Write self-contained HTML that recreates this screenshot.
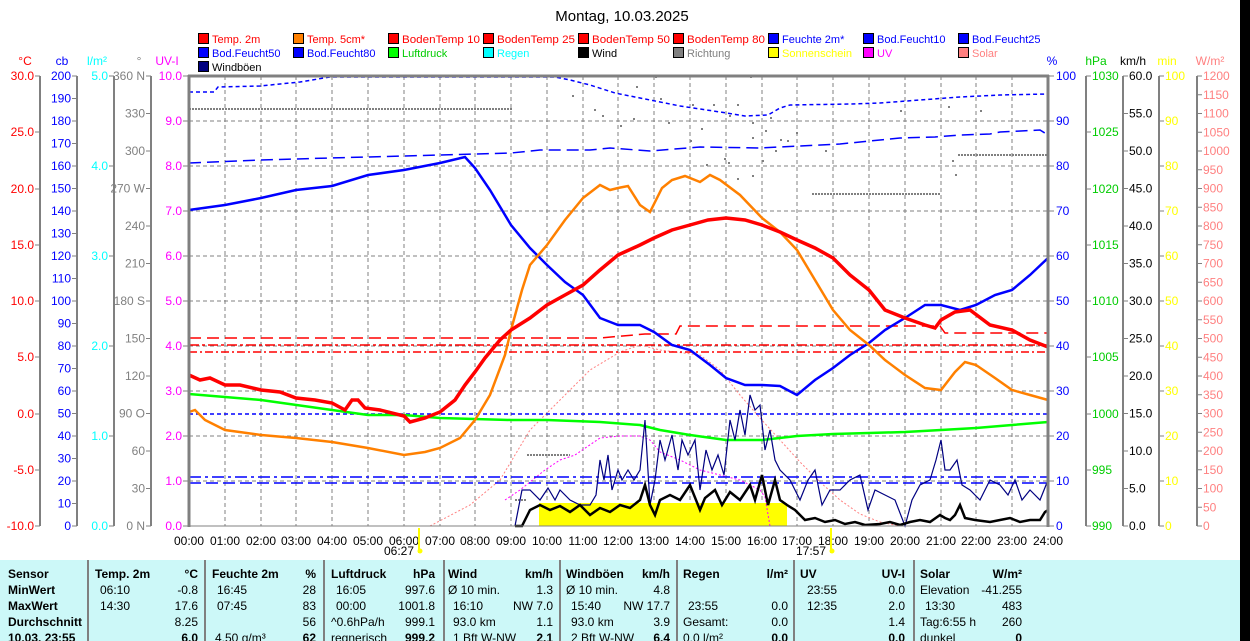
<!DOCTYPE html>
<html><head><meta charset="utf-8"><style>
html,body{margin:0;padding:0;background:#fff;}
svg{display:block;font-family:"Liberation Sans",Arial,sans-serif;}
</style></head><body>
<svg width="1250" height="641" viewBox="0 0 1250 641" xmlns="http://www.w3.org/2000/svg">
<rect x="0" y="0" width="1250" height="641" fill="#fff"/>
<rect x="1240" y="0" width="10" height="641" fill="#000"/>
<text x="622" y="21" font-size="15" text-anchor="middle" fill="#000">Montag, 10.03.2025</text>

<!-- legend -->
<g font-size="12" stroke="#000" stroke-width="1">
<rect x="198.5" y="33.5" width="10" height="10" fill="#f00"/><rect x="293.5" y="33.5" width="10" height="10" fill="#ff8000"/><rect x="388.5" y="33.5" width="10" height="10" fill="#f00"/><rect x="483.5" y="33.5" width="10" height="10" fill="#f00"/><rect x="578.5" y="33.5" width="10" height="10" fill="#f00"/><rect x="673.5" y="33.5" width="10" height="10" fill="#f00"/><rect x="768.5" y="33.5" width="10" height="10" fill="#00f"/><rect x="863.5" y="33.5" width="10" height="10" fill="#00f"/><rect x="958.5" y="33.5" width="10" height="10" fill="#00f"/>
<rect x="198.5" y="47.5" width="10" height="10" fill="#00f"/><rect x="293.5" y="47.5" width="10" height="10" fill="#00f"/><rect x="388.5" y="47.5" width="10" height="10" fill="#0f0"/><rect x="483.5" y="47.5" width="10" height="10" fill="#0ff"/><rect x="578.5" y="47.5" width="10" height="10" fill="#000"/><rect x="673.5" y="47.5" width="10" height="10" fill="#808080"/><rect x="768.5" y="47.5" width="10" height="10" fill="#ff0"/><rect x="863.5" y="47.5" width="10" height="10" fill="#f0f"/><rect x="958.5" y="47.5" width="10" height="10" fill="#ff8080"/>
<rect x="198.5" y="61.5" width="10" height="10" fill="#000080"/>
</g>
<g font-size="11" stroke="none">
<text x="212" y="43" fill="#f00">Temp. 2m</text><text x="307" y="43" fill="#f00">Temp. 5cm*</text><text x="402" y="43" fill="#f00" textLength="78" lengthAdjust="spacingAndGlyphs">BodenTemp 10</text><text x="497" y="43" fill="#f00" textLength="78" lengthAdjust="spacingAndGlyphs">BodenTemp 25</text><text x="592" y="43" fill="#f00" textLength="78" lengthAdjust="spacingAndGlyphs">BodenTemp 50</text><text x="687" y="43" fill="#f00" textLength="78" lengthAdjust="spacingAndGlyphs">BodenTemp 80</text><text x="782" y="43" fill="#00f">Feuchte 2m*</text><text x="877" y="43" fill="#00f">Bod.Feucht10</text><text x="972" y="43" fill="#00f">Bod.Feucht25</text>
<text x="212" y="57" fill="#00f">Bod.Feucht50</text><text x="307" y="57" fill="#00f">Bod.Feucht80</text><text x="402" y="57" fill="#0c0">Luftdruck</text><text x="497" y="57" fill="#0ff">Regen</text><text x="592" y="57" fill="#000">Wind</text><text x="687" y="57" fill="#808080">Richtung</text><text x="782" y="57" fill="#ff0" textLength="70" lengthAdjust="spacingAndGlyphs">Sonnenschein</text><text x="877" y="57" fill="#f0f">UV</text><text x="972" y="57" fill="#ff8080">Solar</text>
<text x="212" y="71" fill="#000">Windböen</text>
</g>

<!-- unit titles -->
<g font-size="12">
<text x="25" y="65" fill="#f00" text-anchor="middle">°C</text>
<text x="62" y="65" fill="#00f" text-anchor="middle">cb</text>
<text x="97" y="65" fill="#0ff" text-anchor="middle">l/m²</text>
<text x="139" y="65" fill="#808080" text-anchor="middle">°</text>
<text x="167" y="65" fill="#f0f" text-anchor="middle">UV-I</text>
<text x="1052" y="65" fill="#00f" text-anchor="middle">%</text>
<text x="1096" y="65" fill="#0c0" text-anchor="middle">hPa</text>
<text x="1133" y="65" fill="#000" text-anchor="middle">km/h</text>
<text x="1167" y="65" fill="#ff0" text-anchor="middle">min</text>
<text x="1210" y="65" fill="#ff8080" text-anchor="middle">W/m²</text>
</g>

<!-- axis lines -->
<g stroke="#808080" stroke-width="2">
<line x1="40" y1="76" x2="40" y2="526"/><line x1="77" y1="76" x2="77" y2="526"/><line x1="114" y1="76" x2="114" y2="526"/><line x1="151" y1="76" x2="151" y2="526"/>
<line x1="1086" y1="76" x2="1086" y2="526"/><line x1="1123" y1="76" x2="1123" y2="526"/><line x1="1159" y1="76" x2="1159" y2="526"/><line x1="1197" y1="76" x2="1197" y2="526"/>
</g>
<g stroke="#808080" stroke-width="1">
<path d="M35 76h5M35 132h5M35 189h5M35 245h5M35 301h5M35 357h5M35 414h5M35 470h5M35 526h5"/>
<path d="M72 76h5M72 98.5h5M72 121h5M72 143.5h5M72 166h5M72 188.5h5M72 211h5M72 233.5h5M72 256h5M72 278.5h5M72 301h5M72 323.5h5M72 346h5M72 368.5h5M72 391h5M72 413.5h5M72 436h5M72 458.5h5M72 481h5M72 503.5h5M72 526h5"/>
<path d="M109 76h5M109 166h5M109 256h5M109 346h5M109 436h5M109 526h5"/>
<path d="M146 76h5M146 113.5h5M146 151h5M146 188.5h5M146 226h5M146 263.5h5M146 301h5M146 338.5h5M146 376h5M146 413.5h5M146 451h5M146 488.5h5M146 526h5"/>
<path d="M183 76h5M183 121h5M183 166h5M183 211h5M183 256h5M183 301h5M183 346h5M183 391h5M183 436h5M183 481h5M183 526h5"/>
<path d="M1049 76h5M1049 121h5M1049 166h5M1049 211h5M1049 256h5M1049 301h5M1049 346h5M1049 391h5M1049 436h5M1049 481h5M1049 526h5"/>
<path d="M1086 76h5M1086 132h5M1086 189h5M1086 245h5M1086 301h5M1086 357h5M1086 414h5M1086 470h5M1086 526h5"/>
<path d="M1123 76h5M1123 113.5h5M1123 151h5M1123 188.5h5M1123 226h5M1123 263.5h5M1123 301h5M1123 338.5h5M1123 376h5M1123 413.5h5M1123 451h5M1123 488.5h5M1123 526h5"/>
<path d="M1159 76h5M1159 121h5M1159 166h5M1159 211h5M1159 256h5M1159 301h5M1159 346h5M1159 391h5M1159 436h5M1159 481h5M1159 526h5"/>
<path d="M1197 76h5M1197 94.75h5M1197 113.5h5M1197 132.25h5M1197 151h5M1197 169.75h5M1197 188.5h5M1197 207.25h5M1197 226h5M1197 244.75h5M1197 263.5h5M1197 282.25h5M1197 301h5M1197 319.75h5M1197 338.5h5M1197 357.25h5M1197 376h5M1197 394.75h5M1197 413.5h5M1197 432.25h5M1197 451h5M1197 469.75h5M1197 488.5h5M1197 507.25h5M1197 526h5"/>
</g>

<!-- tick labels -->
<g font-size="12" text-anchor="end">
<g fill="#f00"><text x="34" y="80">30.0</text><text x="34" y="136">25.0</text><text x="34" y="193">20.0</text><text x="34" y="249">15.0</text><text x="34" y="305">10.0</text><text x="34" y="361">5.0</text><text x="34" y="418">0.0</text><text x="34" y="474">-5.0</text><text x="34" y="530">-10.0</text></g>
<g fill="#00f"><text x="71" y="80">200</text><text x="71" y="102.5">190</text><text x="71" y="125">180</text><text x="71" y="147.5">170</text><text x="71" y="170">160</text><text x="71" y="192.5">150</text><text x="71" y="215">140</text><text x="71" y="237.5">130</text><text x="71" y="260">120</text><text x="71" y="282.5">110</text><text x="71" y="305">100</text><text x="71" y="327.5">90</text><text x="71" y="350">80</text><text x="71" y="372.5">70</text><text x="71" y="395">60</text><text x="71" y="417.5">50</text><text x="71" y="440">40</text><text x="71" y="462.5">30</text><text x="71" y="485">20</text><text x="71" y="507.5">10</text><text x="71" y="530">0</text></g>
<g fill="#0ff"><text x="108" y="80">5.0</text><text x="108" y="170">4.0</text><text x="108" y="260">3.0</text><text x="108" y="350">2.0</text><text x="108" y="440">1.0</text><text x="108" y="530">0.0</text></g>
<g fill="#808080"><text x="145" y="80">360 N</text><text x="145" y="117.5">330</text><text x="145" y="155">300</text><text x="145" y="192.5">270 W</text><text x="145" y="230">240</text><text x="145" y="267.5">210</text><text x="145" y="305">180 S</text><text x="145" y="342.5">150</text><text x="145" y="380">120</text><text x="145" y="417.5">90 O</text><text x="145" y="455">60</text><text x="145" y="492.5">30</text><text x="145" y="530">0 N</text></g>
<g fill="#f0f"><text x="182" y="80">10.0</text><text x="182" y="125">9.0</text><text x="182" y="170">8.0</text><text x="182" y="215">7.0</text><text x="182" y="260">6.0</text><text x="182" y="305">5.0</text><text x="182" y="350">4.0</text><text x="182" y="395">3.0</text><text x="182" y="440">2.0</text><text x="182" y="485">1.0</text><text x="182" y="530">0.0</text></g>
</g>
<g font-size="12" text-anchor="start">
<g fill="#00f"><text x="1056" y="80">100</text><text x="1056" y="125">90</text><text x="1056" y="170">80</text><text x="1056" y="215">70</text><text x="1056" y="260">60</text><text x="1056" y="305">50</text><text x="1056" y="350">40</text><text x="1056" y="395">30</text><text x="1056" y="440">20</text><text x="1056" y="485">10</text><text x="1056" y="530">0</text></g>
<g fill="#0c0"><text x="1092" y="80">1030</text><text x="1092" y="136">1025</text><text x="1092" y="193">1020</text><text x="1092" y="249">1015</text><text x="1092" y="305">1010</text><text x="1092" y="361">1005</text><text x="1092" y="418">1000</text><text x="1092" y="474">995</text><text x="1092" y="530">990</text></g>
<g fill="#000"><text x="1129" y="80">60.0</text><text x="1129" y="117.5">55.0</text><text x="1129" y="155">50.0</text><text x="1129" y="192.5">45.0</text><text x="1129" y="230">40.0</text><text x="1129" y="267.5">35.0</text><text x="1129" y="305">30.0</text><text x="1129" y="342.5">25.0</text><text x="1129" y="380">20.0</text><text x="1129" y="417.5">15.0</text><text x="1129" y="455">10.0</text><text x="1129" y="492.5">5.0</text><text x="1129" y="530">0.0</text></g>
<g fill="#ff0"><text x="1165" y="80">100</text><text x="1165" y="125">90</text><text x="1165" y="170">80</text><text x="1165" y="215">70</text><text x="1165" y="260">60</text><text x="1165" y="305">50</text><text x="1165" y="350">40</text><text x="1165" y="395">30</text><text x="1165" y="440">20</text><text x="1165" y="485">10</text><text x="1165" y="530">0</text></g>
<g fill="#ff8080"><text x="1203" y="80">1200</text><text x="1203" y="98.75">1150</text><text x="1203" y="117.5">1100</text><text x="1203" y="136.25">1050</text><text x="1203" y="155">1000</text><text x="1203" y="173.75">950</text><text x="1203" y="192.5">900</text><text x="1203" y="211.25">850</text><text x="1203" y="230">800</text><text x="1203" y="248.75">750</text><text x="1203" y="267.5">700</text><text x="1203" y="286.25">650</text><text x="1203" y="305">600</text><text x="1203" y="323.75">550</text><text x="1203" y="342.5">500</text><text x="1203" y="361.25">450</text><text x="1203" y="380">400</text><text x="1203" y="398.75">350</text><text x="1203" y="417.5">300</text><text x="1203" y="436.25">250</text><text x="1203" y="455">200</text><text x="1203" y="473.75">150</text><text x="1203" y="492.5">100</text><text x="1203" y="511.25">50</text><text x="1203" y="530">0</text></g>
</g>

<!-- grid -->
<g stroke="#808080" stroke-width="1" stroke-dasharray="4,3">
<path d="M189 121H1048M189 166H1048M189 211H1048M189 256H1048M189 301H1048M189 346H1048M189 391H1048M189 436H1048M189 481H1048"/>
<path d="M225 76V526M261 76V526M296 76V526M332 76V526M368 76V526M404 76V526M440 76V526M475 76V526M511 76V526M547 76V526M583 76V526M618 76V526M654 76V526M690 76V526M726 76V526M762 76V526M797 76V526M833 76V526M869 76V526M905 76V526M941 76V526M976 76V526M1012 76V526"/>
</g>

<!-- sunshine -->
<rect x="539" y="503" width="248" height="23" fill="#ff0"/>

<!-- dotted gray lines -->
<g stroke="#808080" stroke-width="2" stroke-dasharray="2,1" fill="none">
<path d="M189 109H513M812 194H940M958 155H1048M527 455H570M515 500H526"/>
</g>
<g fill="#808080">
<rect x="572" y="95" width="2" height="2"/><rect x="594" y="109" width="2" height="2"/><rect x="602" y="115" width="2" height="2"/><rect x="620" y="125" width="2" height="2"/><rect x="633" y="118" width="2" height="2"/><rect x="660" y="98" width="2" height="2"/><rect x="668" y="122" width="2" height="2"/><rect x="690" y="140" width="2" height="2"/><rect x="692" y="104" width="2" height="2"/><rect x="713" y="104" width="2" height="2"/><rect x="729" y="115" width="2" height="2"/><rect x="737" y="104" width="2" height="2"/><rect x="752" y="122" width="2" height="2"/><rect x="752" y="137" width="2" height="2"/><rect x="765" y="130" width="2" height="2"/><rect x="762" y="160" width="2" height="2"/><rect x="770" y="117" width="2" height="2"/><rect x="775" y="150" width="2" height="2"/><rect x="780" y="139" width="2" height="2"/><rect x="787" y="140" width="2" height="2"/><rect x="724" y="158" width="2" height="2"/><rect x="701" y="128" width="2" height="2"/><rect x="706" y="164" width="2" height="2"/><rect x="728" y="162" width="2" height="2"/><rect x="737" y="178" width="2" height="2"/><rect x="752" y="175" width="2" height="2"/><rect x="796" y="132" width="2" height="2"/><rect x="948" y="106" width="2" height="2"/><rect x="952" y="160" width="2" height="2"/><rect x="955" y="174" width="2" height="2"/><rect x="655" y="76" width="2" height="2"/><rect x="750" y="76" width="2" height="2"/><rect x="980" y="110" width="2" height="2"/><rect x="825" y="150" width="2" height="2"/><rect x="900" y="110" width="2" height="2"/><rect x="636" y="86" width="2" height="2"/>
</g>

<!-- Solar and UV -->
<polyline fill="none" stroke="#ff8080" stroke-width="1" stroke-dasharray="2,2" points="430,526 470,505 500,480 530,430 560,400 590,370 620,352 640,345 660,350 700,355 720,370 740,395 760,418 780,440 800,462 820,482 840,500 860,514 880,522 900,526"/>
<polyline fill="none" stroke="#f0f" stroke-width="1" stroke-dasharray="2,2" points="505,500 520,490 535,478 545,470 560,460 575,455 600,438 620,436 640,436 650,440 660,452 680,460 700,470 720,475 740,480 760,490 765,497 770,526"/>

<!-- soil moisture dashed -->
<polyline fill="none" stroke="#00f" stroke-width="1.5" stroke-dasharray="4,3" points="189,92 214,92 218,87 260,86 280,84 300,82 312,80 330,77 555,77 570,80 590,85 615,93 640,98 680,106 720,112 745,116 768,115 780,108 790,105 850,104 880,103 920,100 960,97 1000,95 1048,94"/>
<polyline fill="none" stroke="#00f" stroke-width="1.5" stroke-dasharray="12,6" points="189,163 260,160 330,158 440,155 511,153 540,150 560,150 590,150 610,148 650,151 700,147 760,148 800,146 840,144 870,141 900,138 935,137 960,135 990,134 1000,132 1040,130 1048,135"/>
<path d="M189 414H1048" stroke="#00f" stroke-width="1.5" stroke-dasharray="4,3"/>
<path d="M189 477H1048" stroke="#00f" stroke-width="1.5" stroke-dasharray="12,4,3,4"/>
<path d="M189 483H1048" stroke="#00f" stroke-width="1.5" stroke-dasharray="12,5"/>

<!-- soil temps -->
<polyline fill="none" stroke="#f00" stroke-width="1.5" stroke-dasharray="12,6" points="189,338 420,338 420,338 600,338 645,334 676,334 680,326 940,326 945,333 1048,333"/>
<path d="M189 345H1048" stroke="#f00" stroke-width="1.5" stroke-dasharray="10,3,3,3"/>
<path d="M189 352H1048" stroke="#f00" stroke-width="1.5" stroke-dasharray="8,3,2,3"/>

<!-- pressure -->
<polyline fill="none" stroke="#0f0" stroke-width="2.5" points="189,394 261,400 332,410 368,415 404,415 440,418 511,420 547,420 600,422 640,425 660,430 690,435 726,440 762,440 797,436 833,434 869,433 905,432 941,430 976,428 1012,425 1048,422"/>

<!-- gusts -->
<polyline fill="none" stroke="#000080" stroke-width="1.2" points="515,526 522,490 530,490 540,500 548,488 555,500 560,490 570,500 580,505 590,505 596,495 600,460 604,480 608,455 612,490 618,470 622,480 628,470 634,480 640,470 645,420 650,505 655,480 660,440 665,460 672,435 678,470 682,440 688,455 695,440 700,490 706,450 712,470 718,455 724,475 730,420 735,440 740,410 745,435 750,395 755,410 760,405 765,450 770,430 775,460 780,470 790,480 800,500 808,480 815,470 822,505 830,490 840,490 850,480 860,475 868,510 875,490 885,495 895,500 905,526 912,500 920,485 930,480 936,460 941,440 945,470 950,470 957,460 962,485 970,490 980,500 990,480 1000,485 1008,495 1015,480 1022,500 1030,490 1040,500 1048,480"/>
<!-- wind -->
<polyline fill="none" stroke="#000" stroke-width="2.5" points="515,526 522,526 530,510 540,505 550,510 560,506 570,512 580,505 590,515 600,508 610,512 620,505 630,508 640,500 645,485 650,505 655,515 660,500 670,495 680,500 690,485 700,510 705,498 715,490 722,505 730,492 740,500 750,485 755,500 762,475 768,505 775,480 780,500 787,505 795,510 805,520 815,518 825,522 835,520 845,524 855,522 865,525 880,524 890,522 900,525 910,522 920,520 930,522 940,515 945,518 950,520 955,515 960,505 965,518 975,520 990,522 1000,520 1010,518 1020,522 1030,520 1040,520 1045,512 1048,510"/>

<!-- humidity -->
<polyline fill="none" stroke="#00f" stroke-width="2.5" points="189,210 225,205 261,198 296,190 332,186 368,175 404,170 440,163 465,157 475,168 490,190 511,225 530,248 547,265 565,282 583,295 600,318 618,325 640,325 654,332 672,345 690,350 710,365 726,378 745,385 762,385 780,386 797,395 815,380 833,368 850,355 869,343 885,330 905,318 925,305 941,305 960,310 976,305 995,295 1012,290 1030,275 1048,258"/>
<!-- temp 5cm -->
<polyline fill="none" stroke="#ff8000" stroke-width="2.5" points="189,412 195,410 205,420 225,430 261,435 296,438 332,442 368,448 404,455 425,452 440,448 460,438 475,420 490,395 505,355 511,330 522,290 530,265 547,245 565,220 583,198 600,185 610,190 618,188 628,186 640,205 650,212 662,188 672,180 685,176 700,182 710,175 720,180 740,195 762,218 780,232 797,250 812,275 833,310 850,330 869,345 885,360 905,375 925,388 941,390 955,372 965,362 976,365 995,378 1012,390 1030,395 1048,400"/>
<!-- temp 2m -->
<polyline fill="none" stroke="#f00" stroke-width="3.5" points="189,375 200,380 210,378 225,385 240,385 261,390 280,392 296,398 315,400 332,403 345,410 352,400 358,400 365,408 380,410 404,416 410,422 425,418 440,412 455,400 465,385 475,372 485,358 500,340 511,330 530,318 547,305 565,295 583,285 600,270 618,255 640,245 654,238 672,230 690,225 708,220 726,218 745,220 762,225 780,232 797,240 815,248 833,258 850,275 869,290 885,310 905,318 925,325 935,328 941,320 955,312 970,310 990,325 1012,330 1030,340 1048,347"/>

<!-- frame -->
<g stroke="#808080" stroke-width="3" fill="none">
<path d="M189 75V527M1048 75V527M188 76H1049"/>
</g>
<path d="M189 526H1048" stroke="#808080" stroke-width="1"/>

<!-- time labels -->
<g font-size="12" text-anchor="middle" fill="#000">
<text x="189" y="545">00:00</text><text x="225" y="545">01:00</text><text x="261" y="545">02:00</text><text x="296" y="545">03:00</text><text x="332" y="545">04:00</text><text x="368" y="545">05:00</text><text x="404" y="545">06:00</text><text x="440" y="545">07:00</text><text x="475" y="545">08:00</text><text x="511" y="545">09:00</text><text x="547" y="545">10:00</text><text x="583" y="545">11:00</text><text x="618" y="545">12:00</text><text x="654" y="545">13:00</text><text x="690" y="545">14:00</text><text x="726" y="545">15:00</text><text x="762" y="545">16:00</text><text x="797" y="545">17:00</text><text x="833" y="545">18:00</text><text x="869" y="545">19:00</text><text x="905" y="545">20:00</text><text x="941" y="545">21:00</text><text x="976" y="545">22:00</text><text x="1012" y="545">23:00</text><text x="1048" y="545">24:00</text>
<text x="399" y="555">06:27</text><text x="811" y="555">17:57</text>
</g>
<rect x="418" y="528" width="2" height="25" fill="#ff0"/><rect x="830" y="528" width="2" height="25" fill="#ff0"/>
<circle cx="420" cy="551" r="2.5" fill="#ff0"/><circle cx="832" cy="551" r="2.5" fill="#ff0"/>

<!-- table -->
<rect x="0" y="560" width="1240" height="81" fill="#ccf8f8"/>
<g stroke="#808080" stroke-width="2">
<path d="M88 560V641M205 560V641M324 560V641M444 560V641M560 560V641M677 560V641M794 560V641M914 560V641"/>
</g>
<g font-size="12" fill="#000">
<g font-weight="bold"><text x="8" y="578">Sensor</text><text x="8" y="610">MaxWert</text><text x="8" y="594">MinWert</text><text x="8" y="626">Durchschnitt</text><text x="8" y="642">10.03. 23:55</text>
<text x="95" y="578">Temp. 2m</text><text x="212" y="578">Feuchte 2m</text><text x="331" y="578">Luftdruck</text><text x="448" y="578">Wind</text><text x="566" y="578">Windböen</text><text x="683" y="578">Regen</text><text x="800" y="578">UV</text><text x="920" y="578">Solar</text>
<g text-anchor="end"><text x="198" y="578">°C</text><text x="316" y="578">%</text><text x="435" y="578">hPa</text><text x="553" y="578">km/h</text><text x="670" y="578">km/h</text><text x="788" y="578">l/m²</text><text x="905" y="578">UV-I</text><text x="1022" y="578">W/m²</text>
<text x="198" y="642">6.0</text><text x="316" y="642">62</text><text x="435" y="642">999.2</text><text x="553" y="642">2.1</text><text x="670" y="642">6.4</text><text x="788" y="642">0.0</text><text x="905" y="642">0.0</text><text x="1022" y="642">0</text></g></g>
<text x="100" y="594">06:10</text><text x="100" y="610">14:30</text>
<text x="217" y="594">16:45</text><text x="217" y="610">07:45</text><text x="215" y="642">4.50 g/m³</text>
<text x="336" y="594">16:05</text><text x="336" y="610">00:00</text><text x="331" y="626">^0.6hPa/h</text><text x="331" y="642">regnerisch</text>
<text x="448" y="594">Ø 10 min.</text><text x="453" y="610">16:10</text><text x="453" y="626">93.0 km</text><text x="453" y="642">1 Bft W-NW</text>
<text x="566" y="594">Ø 10 min.</text><text x="571" y="610">15:40</text><text x="571" y="626">93.0 km</text><text x="571" y="642">2 Bft W-NW</text>
<text x="688" y="610">23:55</text><text x="683" y="626">Gesamt:</text><text x="683" y="642">0.0 l/m²</text>
<text x="807" y="594">23:55</text><text x="807" y="610">12:35</text>
<text x="920" y="594">Elevation</text><text x="925" y="610">13:30</text><text x="920" y="626">Tag:6:55 h</text><text x="920" y="642">dunkel</text>
<g text-anchor="end">
<text x="198" y="594">-0.8</text><text x="198" y="610">17.6</text><text x="198" y="626">8.25</text>
<text x="316" y="594">28</text><text x="316" y="610">83</text><text x="316" y="626">56</text>
<text x="435" y="594">997.6</text><text x="435" y="610">1001.8</text><text x="435" y="626">999.1</text>
<text x="553" y="594">1.3</text><text x="553" y="610">NW 7.0</text><text x="553" y="626">1.1</text>
<text x="670" y="594">4.8</text><text x="670" y="610">NW 17.7</text><text x="670" y="626">3.9</text>
<text x="788" y="610">0.0</text><text x="788" y="626">0.0</text>
<text x="905" y="594">0.0</text><text x="905" y="610">2.0</text><text x="905" y="626">1.4</text>
<text x="1022" y="594">-41.255</text><text x="1022" y="610">483</text><text x="1022" y="626">260</text>
</g>
</g>
</svg>
</body></html>
